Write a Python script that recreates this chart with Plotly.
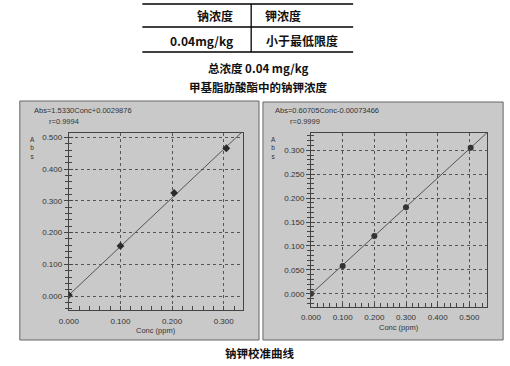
import plotly.graph_objects as go

W, H = 510, 366

# ---------------- data ----------------
table_header = ["钠浓度", "钾浓度"]
table_row = ["0.04mg/kg", "小于最低限度"]
title_lines = ["总浓度 0.04 mg/kg", "甲基脂肪酸酯中的钠钾浓度"]
caption = "钠钾校准曲线"

na_conc = [0.0, 0.1, 0.204, 0.305]
na_abs = [0.003, 0.158, 0.325, 0.466]
na_slope, na_icpt = 1.5330, 0.0029876
na_eq = "Abs=1.5330Conc+0.0029876"
na_r = "r=0.9994"
na_fit_x = [0.0, 0.34]

k_conc = [0.0, 0.1, 0.2, 0.3, 0.504]
k_abs = [0.0, 0.058, 0.121, 0.181, 0.305]
k_slope, k_icpt = 0.60705, -0.00073466
k_eq = "Abs=0.60705Conc-0.00073466"
k_r = "r=0.9999"
k_fit_x = [0.0, 0.56]

x_title = "Conc (ppm)"
y_title_letters = ["A", "b", "s"]


def px(x):
    return x / W


def py(y):
    return 1 - y / H


fig = go.Figure()

tick_font = dict(family="Liberation Sans, Arial, sans-serif", size=8, color="#333")

# traces
fig.add_trace(go.Scatter(x=na_fit_x, y=[na_slope * v + na_icpt for v in na_fit_x],
                         mode="lines", line=dict(color="#555", width=1),
                         xaxis="x", yaxis="y", showlegend=False, hoverinfo="skip"))
fig.add_trace(go.Scatter(x=na_conc, y=na_abs, mode="markers",
                         marker=dict(symbol="diamond", size=6, color="#2a2a2a"),
                         xaxis="x", yaxis="y", showlegend=False))
fig.add_trace(go.Scatter(x=k_fit_x, y=[k_slope * v + k_icpt for v in k_fit_x],
                         mode="lines", line=dict(color="#555", width=1),
                         xaxis="x2", yaxis="y2", showlegend=False, hoverinfo="skip"))
fig.add_trace(go.Scatter(x=k_conc, y=k_abs, mode="markers",
                         marker=dict(symbol="circle", size=6, color="#333"),
                         xaxis="x2", yaxis="y2", showlegend=False))
# helper traces for overlay tick axes
fig.add_trace(go.Scatter(x=[], y=[], xaxis="x", yaxis="y3", showlegend=False))
fig.add_trace(go.Scatter(x=[], y=[], xaxis="x2", yaxis="y4", showlegend=False))

L_dom_x = [px(60), px(238)]
L_dom_y = [py(310), py(133)]
R_dom_x = [px(307), px(487)]
R_dom_y = [py(306.7), py(133)]
L_yr = [-0.044, 0.514]
R_yr = [-0.027, 0.336]

common_x = dict(showline=True, mirror=True, linecolor="#444", linewidth=1,
                showgrid=True, gridcolor="#555", griddash="dot", gridwidth=1,
                zeroline=False, ticks="inside", ticklen=4, tickcolor="#444",
                tickformat=".3f", tickfont=tick_font, ticklabelstandoff=3,
                fixedrange=True)
common_y = dict(showline=True, mirror=True, linecolor="#444", linewidth=1,
                showgrid=True, gridcolor="#555", griddash="dot", gridwidth=1,
                zeroline=False, ticks="outside", ticklen=4, tickcolor="#444",
                tickformat=".3f", tickfont=tick_font, fixedrange=True)
overlay_y = dict(showline=False, showgrid=False, zeroline=False, ticks="inside",
                 ticklen=4, tickcolor="#444", showticklabels=False, fixedrange=True)

fig.update_layout(
    width=W, height=H, margin=dict(l=0, r=0, t=0, b=0),
    paper_bgcolor="white", plot_bgcolor="white",
    xaxis=dict(domain=L_dom_x, range=[0, 0.338], dtick=0.1, tick0=0, anchor="y",
               minor=dict(dtick=0.02, ticks="inside", ticklen=4, tickcolor="#444", showgrid=False),
               **common_x),
    yaxis=dict(domain=L_dom_y, range=L_yr, dtick=0.1, tick0=0, anchor="x",
               minor=dict(dtick=0.02, ticks="outside", ticklen=3, tickcolor="#444", showgrid=False),
               **common_y),
    yaxis3=dict(overlaying="y", anchor="x", range=L_yr, dtick=0.1, tick0=0,
                minor=dict(dtick=0.02, ticks="inside", ticklen=3, tickcolor="#444", showgrid=False),
                **overlay_y),
    xaxis2=dict(domain=R_dom_x, range=[0, 0.557], dtick=0.1, tick0=0, anchor="y2",
                minor=dict(dtick=0.02, ticks="inside", ticklen=4, tickcolor="#444", showgrid=False),
                **common_x),
    yaxis2=dict(domain=R_dom_y, range=R_yr, dtick=0.05, tick0=0, anchor="x2",
                minor=dict(dtick=0.01, ticks="outside", ticklen=3, tickcolor="#444", showgrid=False),
                **common_y),
    yaxis4=dict(overlaying="y2", anchor="x2", range=R_yr, dtick=0.05, tick0=0,
                minor=dict(dtick=0.01, ticks="inside", ticklen=3, tickcolor="#444", showgrid=False),
                **overlay_y),
)

shapes = []
# panel backgrounds
for x0, x1, y0, y1 in [(10, 254, 101, 340), (258, 503, 102, 340)]:
    shapes.append(dict(type="rect", xref="paper", yref="paper",
                       x0=px(x0), x1=px(x1), y0=py(y1), y1=py(y0),
                       fillcolor="#c9c9c9", line=dict(color="#666", width=1), layer="below"))
# table lines
for yy in [4, 27, 52]:
    shapes.append(dict(type="line", xref="paper", yref="paper",
                       x0=px(135), x1=px(350), y0=py(yy), y1=py(yy),
                       line=dict(color="black", width=1.3)))
shapes.append(dict(type="line", xref="paper", yref="paper",
                   x0=px(246), x1=px(246), y0=py(4), y1=py(52),
                   line=dict(color="black", width=1.3)))
fig.update_layout(shapes=shapes)

cjk = "Noto Sans CJK SC, sans-serif"
ann = []


def add_text(text, x, y, size, xanchor="center", family=cjk, bold=True, color="#111",
             yanchor="middle"):
    ann.append(dict(text=f"<b>{text}</b>" if bold else text, x=px(x), y=py(y),
                    xref="paper", yref="paper", xanchor=xanchor, yanchor=yanchor,
                    showarrow=False, font=dict(family=family, size=size, color=color)))


add_text(table_header[0], 230, 15, 12, xanchor="right")
add_text(table_header[1], 258, 15, 12, xanchor="left")
add_text(table_row[0], 230, 40, 12, xanchor="right")
add_text(table_row[1], 259, 40, 12, xanchor="left")
add_text(title_lines[0], 253, 68, 11.5)
add_text(title_lines[1], 253, 87, 11.5)
add_text(caption, 254, 353, 11.5)

small = "Liberation Sans, Arial, sans-serif"
add_text(na_eq, 22, 110, 7.5, xanchor="left", family=small, bold=False, color="#333")
add_text(na_r, 38, 121, 7.5, xanchor="left", family=small, bold=False, color="#333")
add_text(k_eq, 268, 110, 7.5, xanchor="left", family=small, bold=False, color="#333")
add_text(k_r, 284, 121, 7.5, xanchor="left", family=small, bold=False, color="#333")
add_text(x_title, 149, 330, 7.5, family=small, bold=False, color="#333")
add_text(x_title, 397, 327, 7.5, family=small, bold=False, color="#333")
abs_label = "<br>".join(y_title_letters)
add_text(abs_label, 23, 134, 6.5, family=small, bold=False, color="#333", yanchor="top")
add_text(abs_label, 269, 134, 6.5, family=small, bold=False, color="#333", yanchor="top")

fig.update_layout(annotations=ann)

fig.write_html("out.html",
               config={"displayModeBar": False},
               post_script="document.body.style.margin='0';document.body.style.padding='0';")
